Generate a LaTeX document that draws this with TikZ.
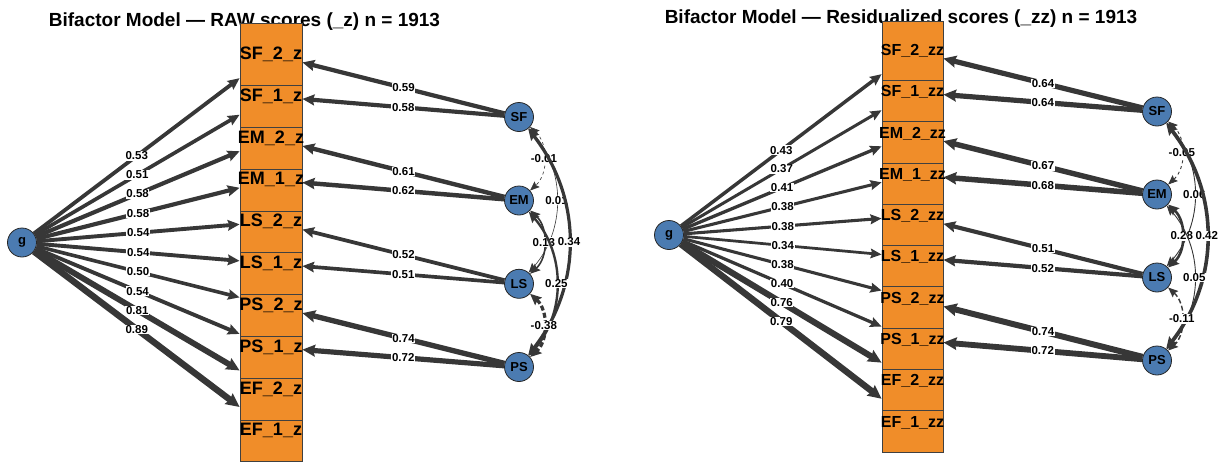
\documentclass[tikz,border=0pt]{standalone}
\usepackage{fontspec}
\setmainfont{Liberation Sans}
\usetikzlibrary{arrows.meta}
\definecolor{latfill}{RGB}{75,123,177}
\definecolor{manfill}{RGB}{240,141,41}
\definecolor{edgegray}{RGB}{55,55,55}
\newcommand{\mv}[1]{\makebox[0pt]{#1}}

\begin{document}
\begin{tikzpicture}[x=1pt, y=1pt,
    >={Stealth[length=9pt 0.7, width=7pt 0.9, inset=1.5pt]},
    title/.style={anchor=base, font=\fontsize{19}{22}\selectfont\bfseries},
    latent/.style={circle, draw=black!85, line width=0.8pt, fill=latfill,
        minimum size=29pt, inner sep=0pt, font=\fontsize{13}{15}\selectfont\bfseries},
    manA/.style={rectangle, draw=black!75, line width=0.8pt, fill=manfill,
        minimum width=62pt, minimum height=62pt, inner sep=0pt,
        font=\fontsize{18}{20}\selectfont\bfseries},
    manB/.style={manA, minimum width=61pt, minimum height=59pt,
        font=\fontsize{16}{18}\selectfont\bfseries},
    ld/.style={draw=edgegray, line width=#1*7.2pt, ->},
    ldB/.style={draw=edgegray, line width=#1*8.1pt, ->},
    cv/.style={draw=edgegray, line width=#1, <->},
    neg/.style={dash pattern=on 5pt off 2.5pt},
    lbl/.style={fill=white, inner sep=0.6pt, font=\fontsize{11.5}{13}\selectfont\bfseries}
  ]
  \useasboundingbox (0,0) rectangle (1225,-461);

  \node[title] (titleA) at (244.5,-26.7) {Bifactor Model --- RAW scores (\_z) n = 1913};
  \node[title] (titleB) at (901,-23.3) {Bifactor Model --- Residualized scores (\_zz) n = 1913};

  % raw scores
  \node[manA] (ef1a) at (271,-430.7) {\mv{EF\_1\_z}};
  \node[manA] (ef2a) at (271,-388.9) {\mv{EF\_2\_z}};
  \node[manA] (ps1a) at (271,-347.1) {\mv{PS\_1\_z}};
  \node[manA] (ps2a) at (271,-305.3) {\mv{PS\_2\_z}};
  \node[manA] (ls1a) at (271,-263.5) {\mv{LS\_1\_z}};
  \node[manA] (ls2a) at (271,-221.7) {\mv{LS\_2\_z}};
  \node[manA] (em1a) at (271,-179.9) {\mv{EM\_1\_z}};
  \node[manA] (em2a) at (271,-138.1) {\mv{EM\_2\_z}};
  \node[manA] (sf1a) at (271,-96.3) {\mv{SF\_1\_z}};
  \node[manA] (sf2a) at (271,-54.5) {\mv{SF\_2\_z}};

  \node[latent] (gA) at (22,-242.5) {g};
  \node[latent] (SFa) at (519,-117) {SF};
  \node[latent] (EMa) at (519,-200.5) {EM};
  \node[latent] (LSa) at (519,-283.8) {LS};
  \node[latent] (PSa) at (519,-367) {PS};

  \draw[ld=0.53] (gA) -- node[lbl]{0.53} (sf2a);
  \draw[ld=0.51] (gA) -- node[lbl]{0.51} (sf1a);
  \draw[ld=0.58] (gA) -- node[lbl]{0.58} (em2a);
  \draw[ld=0.58] (gA) -- node[lbl]{0.58} (em1a);
  \draw[ld=0.54] (gA) -- node[lbl]{0.54} (ls2a);
  \draw[ld=0.54] (gA) -- node[lbl]{0.54} (ls1a);
  \draw[ld=0.50] (gA) -- node[lbl]{0.50} (ps2a);
  \draw[ld=0.54] (gA) -- node[lbl]{0.54} (ps1a);
  \draw[ld=0.81] (gA) -- node[lbl]{0.81} (ef2a);
  \draw[ld=0.89] (gA) -- node[lbl]{0.89} (ef1a);

  \draw[ld=0.59] (SFa) -- node[lbl]{0.59} (sf2a);
  \draw[ld=0.58] (SFa) -- node[lbl]{0.58} (sf1a);
  \draw[ld=0.61] (EMa) -- node[lbl]{0.61} (em2a);
  \draw[ld=0.62] (EMa) -- node[lbl]{0.62} (em1a);
  \draw[ld=0.52] (LSa) -- node[lbl]{0.52} (ls2a);
  \draw[ld=0.51] (LSa) -- node[lbl]{0.51} (ls1a);
  \draw[ld=0.74] (PSa) -- node[lbl]{0.74} (ps2a);
  \draw[ld=0.72] (PSa) -- node[lbl]{0.72} (ps1a);

  \draw[cv=0.6pt, dashed] (SFa) to[bend left=48] node[lbl]{-0.01} (EMa);
  \draw[cv=0.6pt] (SFa) to[bend left=41] node[lbl]{0.01} (LSa);
  \draw[cv=3.2pt] (SFa) to[bend left=38] node[lbl]{0.34} (PSa);
  \draw[cv=1.6pt] (EMa) to[bend left=48] node[lbl]{0.13} (LSa);
  \draw[cv=2.4pt] (EMa) to[bend left=41] node[lbl]{0.25} (PSa);
  \draw[cv=3.2pt, neg] (LSa) to[bend left=48] node[lbl]{-0.38} (PSa);

  % residualized scores
  \node[manB] (ef1b) at (912.5,-422.5) {\mv{EF\_1\_zz}};
  \node[manB] (ef2b) at (912.5,-381.2) {\mv{EF\_2\_zz}};
  \node[manB] (ps1b) at (912.5,-339.9) {\mv{PS\_1\_zz}};
  \node[manB] (ps2b) at (912.5,-298.6) {\mv{PS\_2\_zz}};
  \node[manB] (ls1b) at (912.5,-257.3) {\mv{LS\_1\_zz}};
  \node[manB] (ls2b) at (912.5,-216.0) {\mv{LS\_2\_zz}};
  \node[manB] (em1b) at (912.5,-174.7) {\mv{EM\_1\_zz}};
  \node[manB] (em2b) at (912.5,-133.4) {\mv{EM\_2\_zz}};
  \node[manB] (sf1b) at (912.5,-92.1) {\mv{SF\_1\_zz}};
  \node[manB] (sf2b) at (912.5,-50.8) {\mv{SF\_2\_zz}};

  \node[latent] (gB) at (669,-235) {g};
  \node[latent] (SFb) at (1157,-111.5) {SF};
  \node[latent] (EMb) at (1157,-194.5) {EM};
  \node[latent] (LSb) at (1157,-277.5) {LS};
  \node[latent] (PSb) at (1157,-360.5) {PS};

  \draw[ldB=0.43] (gB) -- node[lbl]{0.43} (sf2b);
  \draw[ldB=0.37] (gB) -- node[lbl]{0.37} (sf1b);
  \draw[ldB=0.41] (gB) -- node[lbl]{0.41} (em2b);
  \draw[ldB=0.38] (gB) -- node[lbl]{0.38} (em1b);
  \draw[ldB=0.38] (gB) -- node[lbl]{0.38} (ls2b);
  \draw[ldB=0.34] (gB) -- node[lbl]{0.34} (ls1b);
  \draw[ldB=0.38] (gB) -- node[lbl]{0.38} (ps2b);
  \draw[ldB=0.40] (gB) -- node[lbl]{0.40} (ps1b);
  \draw[ldB=0.76] (gB) -- node[lbl]{0.76} (ef2b);
  \draw[ldB=0.79] (gB) -- node[lbl]{0.79} (ef1b);

  \draw[ldB=0.64] (SFb) -- node[lbl]{0.64} (sf2b);
  \draw[ldB=0.64] (SFb) -- node[lbl]{0.64} (sf1b);
  \draw[ldB=0.67] (EMb) -- node[lbl]{0.67} (em2b);
  \draw[ldB=0.68] (EMb) -- node[lbl]{0.68} (em1b);
  \draw[ldB=0.51] (LSb) -- node[lbl]{0.51} (ls2b);
  \draw[ldB=0.52] (LSb) -- node[lbl]{0.52} (ls1b);
  \draw[ldB=0.74] (PSb) -- node[lbl]{0.74} (ps2b);
  \draw[ldB=0.72] (PSb) -- node[lbl]{0.72} (ps1b);

  \draw[cv=0.9pt, dashed] (SFb) to[bend left=48] node[lbl]{-0.05} (EMb);
  \draw[cv=0.9pt] (SFb) to[bend left=41] node[lbl]{0.06} (LSb);
  \draw[cv=3.6pt] (SFb) to[bend left=38] node[lbl]{0.42} (PSb);
  \draw[cv=2.6pt] (EMb) to[bend left=48] node[lbl]{0.28} (LSb);
  \draw[cv=0.9pt] (EMb) to[bend left=41] node[lbl]{0.05} (PSb);
  \draw[cv=1.4pt, neg] (LSb) to[bend left=48] node[lbl]{-0.11} (PSb);
\end{tikzpicture}
\end{document}
